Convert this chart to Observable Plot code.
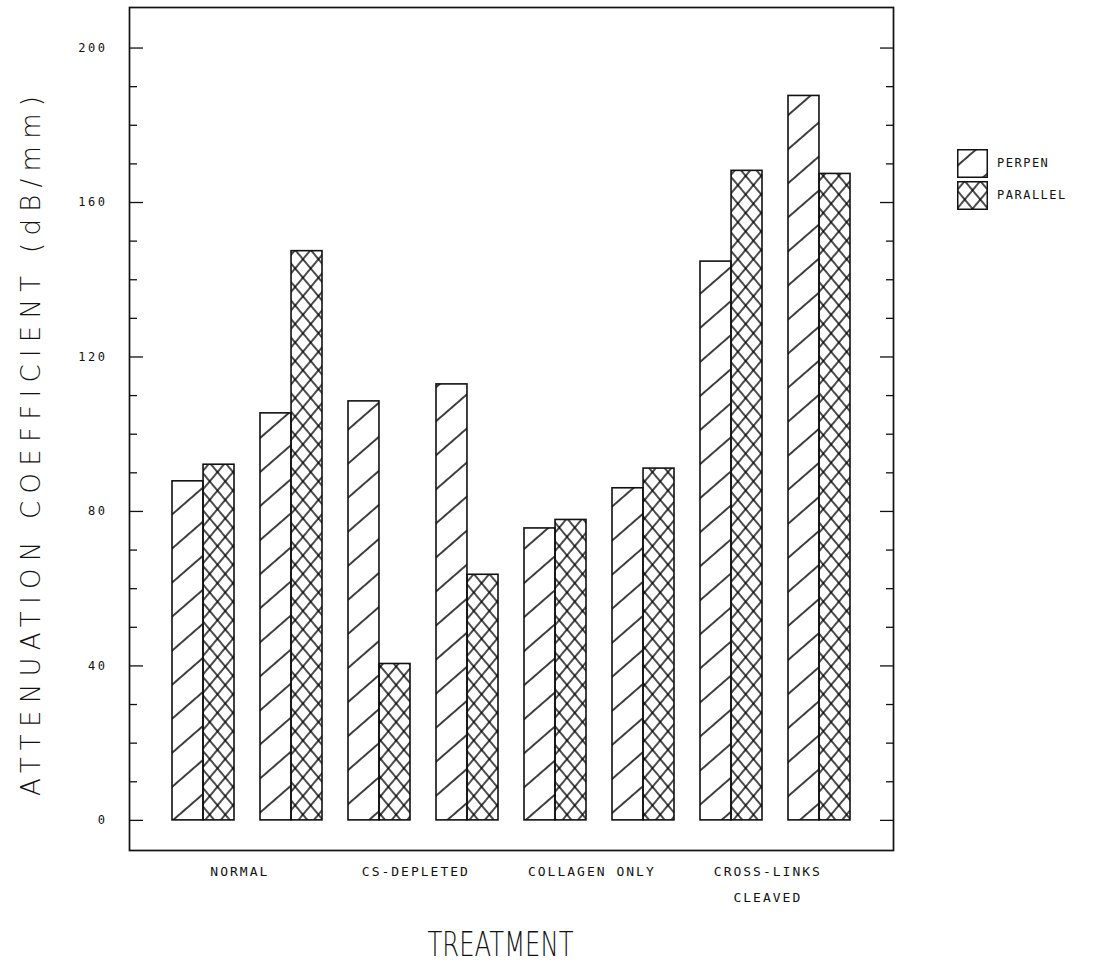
<!DOCTYPE html>
<html>
<head>
<meta charset="utf-8">
<script src="https://cdn.jsdelivr.net/npm/d3@7"></script>
<script src="https://cdn.jsdelivr.net/npm/@observablehq/plot@0.6"></script>
<style>
  html, body { margin: 0; padding: 0; background: #fff; }
  #chart { position: relative; width: 1102px; height: 979px; }
  #legend {
    position: absolute; left: 957px; top: 147px;
    font-family: "DejaVu Sans Mono", monospace; font-size: 12px;
    letter-spacing: 1.5px; color: #111;
  }
  #legend .item { display: flex; align-items: center; height: 32px; }
  #legend .item svg { margin-right: 9px; }
</style>
</head>
<body>
<!-- hatch fills shared by the bars and the legend swatches -->
<svg width="0" height="0" style="position:absolute">
  <defs>
    <pattern id="hatch-perpen" patternUnits="userSpaceOnUse" width="12" height="25.7" patternTransform="rotate(-41)">
      <line x1="0" y1="12.85" x2="12" y2="12.85" stroke="#000" stroke-width="1.5"/>
    </pattern>
    <pattern id="hatch-cross-a" patternUnits="userSpaceOnUse" width="12" height="11.9" patternTransform="rotate(-50)">
      <line x1="0" y1="5.95" x2="12" y2="5.95" stroke="#000" stroke-width="1.4"/>
    </pattern>
    <pattern id="hatch-cross-b" patternUnits="userSpaceOnUse" width="12" height="11.9" patternTransform="rotate(50)">
      <line x1="0" y1="5.95" x2="12" y2="5.95" stroke="#000" stroke-width="1.4"/>
    </pattern>
  </defs>
</svg>

<div id="chart">
  <div id="legend">
    <div class="item">
      <svg width="31" height="29"><rect x="0.75" y="0.75" width="29.5" height="27.5" fill="url(#hatch-perpen)" stroke="#111" stroke-width="1.5"/></svg>
      <span>PERPEN</span>
    </div>
    <div class="item">
      <svg width="31" height="29">
        <rect x="0.75" y="0.75" width="29.5" height="27.5" fill="url(#hatch-cross-a)"/>
        <rect x="0.75" y="0.75" width="29.5" height="27.5" fill="url(#hatch-cross-b)" stroke="#111" stroke-width="1.5"/>
      </svg>
      <span>PARALLEL</span>
    </div>
  </div>
</div>

<script>
// Treatments, two specimens each; one pair of bars (perpendicular / parallel) per specimen
const treatments = ["NORMAL", "CS-DEPLETED", "COLLAGEN ONLY", "CROSS-LINKS CLEAVED"];
const treatmentLabels = ["NORMAL", "CS-DEPLETED", "COLLAGEN ONLY", "CROSS-LINKS\nCLEAVED"];
const specimens = ["1", "2"];

// Attenuation coefficient (dB/mm), in specimen order
const perpen   = [87.8, 105.4, 108.5, 112.9, 75.6, 86.0, 144.7, 187.6];
const parallel = [92.1, 147.4, 40.5, 63.6, 77.8, 91.1, 168.2, 167.4];

// Axis ticks
const majorTicks = [0, 40, 80, 120, 160, 200];
const minorTicks = [10, 20, 30, 50, 60, 70, 90, 100, 110, 130, 140, 150, 170, 180, 190];

const pairKeys = treatments.flatMap(t => specimens.map(s => `${t} ${s}`));
const rows = pairKeys.map((pair, i) => ({pair, perpen: perpen[i], parallel: parallel[i]}));

// Layout
const width = 1102, height = 979;
const marginLeft = 129, marginRight = 209, marginTop = 7, marginBottom = 129;
const paddingInner = 0.3, paddingOuter = 0.457;
const step = (width - marginLeft - marginRight) / (pairKeys.length - paddingInner + 2 * paddingOuter);
const half = step * (1 - paddingInner) / 2;

const ink = "#111";
const titleFont = "'DejaVu Sans', sans-serif";

const plot = Plot.plot({
  width, height, marginLeft, marginRight, marginTop, marginBottom,
  style: {fontFamily: "'DejaVu Sans Mono', monospace", fontSize: "12px", color: ink, background: "#fff"},
  x: {domain: pairKeys, paddingInner, paddingOuter, axis: null},
  y: {domain: [-7.8, 210.5], axis: null},
  marks: [
    // perpendicular: left half of each pair
    Plot.barY(rows, {x: "pair", y: "perpen", insetRight: half, fill: "url(#hatch-perpen)", stroke: ink, strokeWidth: 1.6}),
    // parallel: right half, cross-hatched
    Plot.barY(rows, {x: "pair", y: "parallel", insetLeft: half, fill: "url(#hatch-cross-a)"}),
    Plot.barY(rows, {x: "pair", y: "parallel", insetLeft: half, fill: "url(#hatch-cross-b)", stroke: ink, strokeWidth: 1.6}),
    Plot.frame({stroke: ink, strokeWidth: 1.7}),
    // inward ticks on both sides
    Plot.axisY(majorTicks, {anchor: "left", tickSize: -14, tickFormat: () => "", stroke: ink, strokeWidth: 1.3}),
    Plot.axisY(minorTicks, {anchor: "left", tickSize: -8, tickFormat: () => "", stroke: ink, strokeWidth: 1.3}),
    Plot.axisY(majorTicks, {anchor: "right", tickSize: -14, tickFormat: () => "", stroke: ink, strokeWidth: 1.3}),
    Plot.axisY(minorTicks, {anchor: "right", tickSize: -8, tickFormat: () => "", stroke: ink, strokeWidth: 1.3}),
    Plot.axisY(majorTicks, {anchor: "left", tickSize: 0, tickPadding: 22, fontSize: 12, fill: ink, ariaDescription: "tick-labels"}),
    // treatment labels, centred between the two specimens of each treatment
    Plot.text(treatments, {
      x: t => `${t} 1`, text: (t, i) => treatmentLabels[i],
      frameAnchor: "bottom", dx: step / 2 - 8, dy: 7,
      lineAnchor: "top", lineHeight: 2, fontSize: 13, fill: ink,
      ariaDescription: "group-labels"
    }),
    Plot.text(["TREATMENT"], {
      text: d => d, frameAnchor: "bottom", dx: -11, dy: 95,
      textAnchor: "middle", lineAnchor: "middle", fontSize: 34, fill: ink, fontFamily: titleFont,
      ariaDescription: "x-title"
    }),
    Plot.text(["ATTENUATION COEFFICIENT (dB/mm)"], {
      text: d => d, frameAnchor: "left", rotate: -90, dx: -98, dy: 17,
      textAnchor: "middle", lineAnchor: "middle", fontSize: 26, fill: ink, fontFamily: titleFont,
      ariaDescription: "y-title"
    })
  ]
});

// Plotter-style lettering: wide spacing on labels, fixed run lengths on the titles
plot.querySelectorAll('[aria-description="tick-labels"] text').forEach(t => t.setAttribute("letter-spacing", "2.5px"));
plot.querySelectorAll('[aria-description="group-labels"] text').forEach(t => t.setAttribute("letter-spacing", "2px"));
const fitText = (key, length, adjust) => plot.querySelectorAll(`[aria-description="${key}"] text`).forEach(t => {
  t.setAttribute("textLength", length);
  t.setAttribute("lengthAdjust", adjust);
  t.setAttribute("font-weight", "300");
});
fitText("x-title", 146, "spacingAndGlyphs");
fitText("y-title", 700, "spacing");

document.getElementById("chart").prepend(plot);
</script>
</body>
</html>
